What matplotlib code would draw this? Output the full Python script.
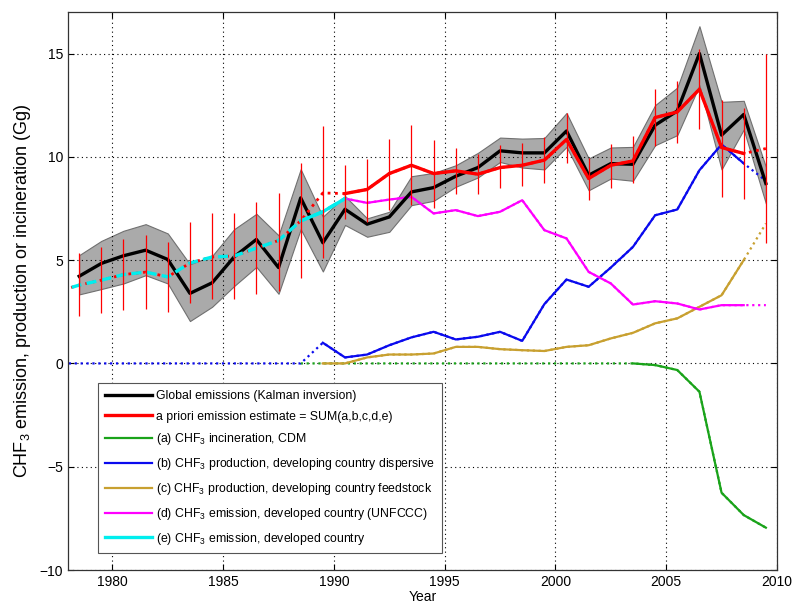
import numpy as np
import matplotlib
matplotlib.use('Agg')
import matplotlib.pyplot as plt

plt.rcParams['font.family'] = ['Liberation Sans', 'DejaVu Sans']
plt.rcParams['mathtext.default'] = 'regular'

## the data (years are mid-year points)
years = np.arange(1978.5, 2010.0, 1.0)          # 1978.5 .. 2009.5
ext_years = np.arange(1977.5, 2010.0, 1.0)      # one extra point left of the axis

# global emissions (Kalman inversion) and its uncertainty band
global_em = [4.22, 4.84, 5.21, 5.48, 5.03, 3.39, 3.90, 5.16, 6.00, 4.64, 8.01,
             5.84, 7.46, 6.74, 7.09, 8.30, 8.51, 9.06, 9.48, 10.29, 10.19, 10.19,
             11.25, 9.11, 9.67, 9.64, 11.53, 12.22, 15.00, 11.05, 12.05, 8.71]
global_hi = [5.24, 5.93, 6.42, 6.74, 6.29, 4.80, 5.20, 6.50, 7.24, 6.20, 9.40,
             7.10, 8.10, 7.02, 7.34, 9.06, 9.22, 9.59, 10.19, 10.93, 10.88, 10.91,
             12.12, 9.92, 10.45, 10.48, 12.50, 13.35, 16.32, 12.66, 12.71, 9.51]
global_lo = [3.34, 3.60, 3.87, 4.27, 3.87, 2.05, 2.74, 3.75, 4.67, 3.37, 6.50,
             4.45, 6.70, 6.13, 6.37, 7.66, 7.87, 8.55, 9.00, 9.75, 9.48, 9.39,
             10.48, 8.38, 8.95, 8.84, 10.56, 11.05, 13.46, 9.39, 11.32, 7.74]

# uncertainty of the a priori estimate (red bars)
err_hi = [5.35, 5.64, 6.01, 6.21, 5.88, 6.85, 7.26, 7.29, 7.82, 8.25, 9.68,
          11.48, 9.59, 9.87, 10.85, 11.53, 10.80, 10.45, 10.16, 10.56, 10.67, 10.96,
          12.12, 9.92, 10.64, 11.00, 13.30, 13.66, 15.24, 12.77, 12.34, 15.00]
err_lo = [2.29, 2.42, 2.58, 2.63, 2.50, 2.90, 3.10, 3.14, 3.34, 3.51, 4.11,
          5.08, 7.00, 6.85, 7.42, 7.66, 7.50, 8.22, 8.18, 8.47, 8.59, 8.71,
          9.71, 7.93, 8.47, 8.71, 10.51, 10.67, 11.37, 8.06, 7.98, 5.84]

nan = np.nan
# a priori = SUM(a..e), 1977.5 .. 2009.5
prior = [3.47, 3.79, 4.03, 4.30, 4.42, 4.19, 4.86, 5.15, 5.20, 5.58, 5.95, 6.90,
         8.25, 8.22, 8.42, 9.19, 9.59, 9.19, 9.32, 9.16, 9.48, 9.59, 9.84,
         10.84, 8.95, 9.59, 9.80, 11.90, 12.17, 13.27, 10.45, 10.16, 10.40]
# (a) incineration, CDM
incin = [nan] * 11 + [0.0] * 16 + [-0.08, -0.32, -1.37, -6.26, -7.34, -7.95]
# (b) production, developing country dispersive
dispersive = [0.0] * 12 + [1.00, 0.29, 0.43, 0.88, 1.26, 1.53, 1.16, 1.29, 1.53, 1.09,
              2.87, 4.06, 3.71, 4.64, 5.64, 7.17, 7.45, 9.35, 10.60, 9.68, 8.84]
# (c) production, developing country feedstock
feedstock = [nan] * 12 + [0.0, 0.0, 0.29, 0.43, 0.43, 0.48, 0.80, 0.80, 0.69, 0.64,
             0.60, 0.80, 0.88, 1.21, 1.48, 1.94, 2.18, 2.74, 3.30, 5.00, 6.77]
# (d) emission, developed country (UNFCCC)
unfccc = [nan] * 13 + [7.98, 7.77, 7.93, 8.06, 7.26, 7.42, 7.13, 7.34, 7.90, 6.45,
          6.05, 4.43, 3.87, 2.85, 3.01, 2.90, 2.61, 2.82, 2.82, 2.82]
# (e) emission, developed country
developed = [3.47, 3.79, 4.03, 4.30, 4.42, 4.19, 4.86, 5.15, 5.20, 5.58, 5.95, 6.90,
             7.34, 7.98] + [nan] * 19

labels = ['Global emissions (Kalman inversion)',
          'a priori emission estimate = SUM(a,b,c,d,e)',
          '(a) CHF$_3$ incineration, CDM',
          '(b) CHF$_3$ production, developing country dispersive',
          '(c) CHF$_3$ production, developing country feedstock',
          '(d) CHF$_3$ emission, developed country (UNFCCC)',
          '(e) CHF$_3$ emission, developed country']

c_red = '#ff0000'
c_green = '#1aa31a'
c_blue = '#0a0aee'
c_gold = '#c8a030'
c_mag = '#ff00ff'
c_cyan = '#00eeee'

fig = plt.figure(figsize=(7.92, 6.09), dpi=100)
ax = fig.add_axes([0.086, 0.064, 0.895, 0.916])


def styled(x, y, color, lw, start, stop, solid_ls='-', other_ls=':'):
    # dotted (or dashed) outside [start, stop], solid inside
    x = np.asarray(x)
    y = np.asarray(y, dtype=float)
    ax.plot(x, y, linestyle=other_ls, color=color, lw=lw)
    m = (x >= start) & (x <= stop)
    return ax.plot(x[m], y[m], linestyle=solid_ls, color=color, lw=lw)[0]


## uncertainty band + global emissions
ax.fill_between(years, global_lo, global_hi, facecolor='#aaaaaa',
                edgecolor='#707070', linewidth=0.8, zorder=1)
h_glob, = ax.plot(years, global_em, color='k', lw=2.4, zorder=3)

## components
h_a = styled(ext_years, incin, c_green, 1.6, 2003.5, 2010)
h_c = styled(ext_years, feedstock, c_gold, 1.6, 1989.5, 2008.5)
h_b = styled(ext_years, dispersive, c_blue, 1.6, 1989.5, 2008.5)
h_d = styled(ext_years, unfccc, c_mag, 1.6, 1990.5, 2008.5)

## a priori (dotted where extrapolated) and developed country (dashed early)
ax.plot(ext_years, prior, ':', color=c_red, lw=2.0, zorder=4)
h_e = styled(ext_years, developed, c_cyan, 2.4, 1988.5, 1990.5, other_ls=(0, (3, 1.6)))
h_e.set_zorder(5)
ax.lines[-2].set_zorder(5)
pm = (ext_years >= 1990.5) & (ext_years <= 2008.5)
h_prior, = ax.plot(ext_years[pm], np.asarray(prior)[pm], color=c_red, lw=2.4, zorder=6)
ax.vlines(years, err_lo, err_hi, colors=c_red, lw=0.9, zorder=6)

# axes and labels
ax.set_xlim(1978, 2010)
ax.set_ylim(-10, 17)
ax.set_xticks(np.arange(1980, 2011, 5))
ax.set_yticks(np.arange(-10, 16, 5))
ax.grid(True, linestyle=(0, (1, 3)), color='k', lw=0.8)
ax.tick_params(direction='in', top=True, right=True, labelsize=10, length=4)
for s in ax.spines.values():
    s.set_color('#333333')
    s.set_linewidth(0.9)
ax.set_xlabel('Year', fontsize=10, labelpad=1)
ax.set_ylabel('CHF$_3$ emission, production or incineration (Gg)', fontsize=13, labelpad=5)

## legend
leg = ax.legend([h_glob, h_prior, h_a, h_b, h_c, h_d, h_e], labels,
                loc='upper left', bbox_to_anchor=(0.0427, 0.335), borderaxespad=0,
                fontsize=8.8, handlelength=3.8, handletextpad=0.4, labelspacing=0.72,
                fancybox=False, framealpha=1, edgecolor='#555555', borderpad=0.55)
leg.get_frame().set_linewidth(0.8)
for ln in leg.get_lines():
    ln.set_linestyle('-')

fig.savefig('out.png', dpi=100)
